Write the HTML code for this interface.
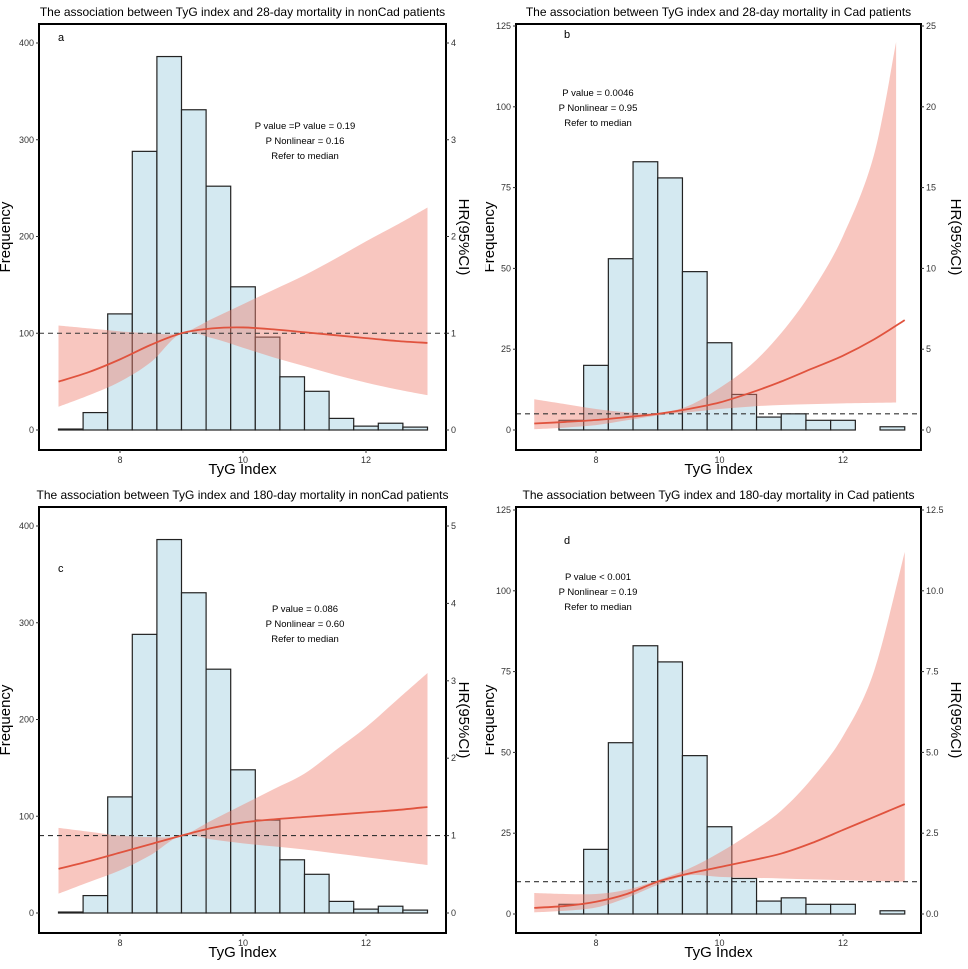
<!DOCTYPE html>
<html><head><meta charset="utf-8"><style>
body{margin:0;background:#fff}
svg text{font-family:"Liberation Sans",Arial,sans-serif}
</style></head><body>
<svg id="chart" width="968" height="964" viewBox="0 0 968 964" xmlns="http://www.w3.org/2000/svg"></svg>
<script>
const binStarts=[7.0,7.4,7.8,8.2,8.6,9.0,9.4,9.8,10.2,10.6,11.0,11.4,11.8,12.2,12.6];
const countsNonCad=[1,18,120,288,386,331,252,148,96,55,40,12,4,7,3];
const countsCad=[0,3,20,53,83,78,49,27,11,4,5,3,3,0,1];
const curveX=[7,7.5,8,8.5,9,9.5,10,10.5,11,11.5,12,12.5,13];
const hrA=[0.5,0.6,0.73,0.88,1.0,1.05,1.06,1.04,1.01,0.98,0.95,0.92,0.9];
const loA=[0.24,0.36,0.5,0.7,1.0,0.95,0.85,0.75,0.66,0.57,0.49,0.42,0.36];
const upA=[1.08,1.05,1.02,1.0,1.0,1.15,1.3,1.45,1.6,1.77,1.95,2.12,2.3];
const hrB=[0.4,0.5,0.62,0.8,1.0,1.3,1.7,2.3,3.0,3.8,4.6,5.6,6.8];
const loB=[0.05,0.15,0.3,0.6,0.9,1.1,1.3,1.45,1.55,1.6,1.65,1.68,1.7];
const upB=[1.9,1.6,1.3,1.1,1.05,1.5,2.6,4.0,6.0,8.6,12.0,17.0,24.0];
const hrC=[0.57,0.67,0.78,0.89,1.0,1.1,1.17,1.21,1.24,1.27,1.3,1.33,1.37];
const loC=[0.25,0.4,0.55,0.75,1.0,0.95,0.9,0.86,0.82,0.77,0.72,0.67,0.62];
const upC=[1.1,1.05,1.0,0.98,1.0,1.2,1.4,1.6,1.8,2.1,2.4,2.75,3.1];
const hrD=[0.19,0.25,0.38,0.62,1.0,1.25,1.45,1.65,1.87,2.2,2.6,3.0,3.4];
const loD=[0.05,0.1,0.2,0.5,0.9,1.2,1.15,1.12,1.1,1.07,1.05,1.02,1.0];
const upD=[0.65,0.62,0.62,0.75,1.05,1.4,1.9,2.5,3.2,4.2,5.5,7.5,11.2];
const freqTicksBig=[0,100,200,300,400];
const freqTicksSmall=[0,25,50,75,100,125];
const xTicks=[8,10,12];

const svg=document.getElementById('chart');
const NS='http://www.w3.org/2000/svg';
function mk(tag,attrs,parent){const e=document.createElementNS(NS,tag);for(const k in attrs)e.setAttribute(k,attrs[k]);(parent||svg).appendChild(e);return e;}
function smooth(pts){let d='M'+pts[0][0]+','+pts[0][1];for(let i=0;i<pts.length-1;i++){const p0=pts[Math.max(0,i-1)],p1=pts[i],p2=pts[i+1],p3=pts[Math.min(pts.length-1,i+2)];const c1=[p1[0]+(p2[0]-p0[0])/6,p1[1]+(p2[1]-p0[1])/6],c2=[p2[0]-(p3[0]-p1[0])/6,p2[1]-(p3[1]-p1[1])/6];d+=' C'+c1[0]+','+c1[1]+' '+c2[0]+','+c2[1]+' '+p2[0]+','+p2[1];}return d;}

function panel(o){
  const g=mk('g',{});
  
  
  const X=v=>o.x8+(v-8)*o.ux;
  const Yf=v=>o.y0-v*(o.y0-o.yTop)/o.fMax;
  const Yh=v=>o.y0-v*(o.y0-o.yTop)/o.hMax;
  let t=mk('text',{x:(o.bx1+o.bx2)/2,y:o.by1-8,'text-anchor':'middle','font-size':'12'},g);t.textContent=o.title;
  
  o.counts.forEach((c,i)=>{
    if(c===0&&i>0)return;
    const r=mk('rect',{x:X(binStarts[i]),y:Yf(c),width:X(binStarts[i]+0.4)-X(binStarts[i]),height:o.y0-Yf(c),fill:'#d4e9f1',stroke:'#222','stroke-width':'1.2'},g);
    
  });
  let bx=o.bandX;
  let up=[],lo=[];
  curveX.forEach((v,i)=>{if(v<=bx){up.push([X(v),Yh(o.up[i])]);lo.push([X(v),Yh(o.lo[i])]);}});
  if(bx<13){const k=curveX.length-1;up.push([X(bx),Yh(o.up[k])]);lo.push([X(bx),Yh(o.lo[k])]);}
  let d=smooth(up);const lr=lo.slice().reverse();const sl=smooth(lr);d+=' L'+lr[0][0]+','+lr[0][1]+sl.slice(sl.indexOf(' C'))+' Z';
  const band=mk('path',{d:d,fill:'#f08070','fill-opacity':'0.45',stroke:'none'},g);
  
  mk('line',{x1:o.bx1,x2:o.bx2,y1:Yh(1),y2:Yh(1),stroke:'#333','stroke-width':'1.1','stroke-dasharray':'5,4'},g);
  const ln=mk('path',{d:smooth(curveX.map((v,i)=>[X(v),Yh(o.hr[i])])),fill:'none',stroke:'#e0533e','stroke-width':'1.8'},g);
  
  mk('rect',{x:o.bx1,y:o.by1,width:o.bx2-o.bx1,height:o.by2-o.by1,fill:'none',stroke:'#000','stroke-width':'2'},g);
  o.fTicks.forEach(v=>{mk('line',{x1:o.bx1-3,x2:o.bx1,y1:Yf(v),y2:Yf(v),stroke:'#333'},g);const tt=mk('text',{x:o.bx1-5,y:Yf(v)+3,'text-anchor':'end','font-size':'9',fill:'#333'},g);tt.textContent=v;});
  o.hTicks.forEach((v,i)=>{mk('line',{x1:o.bx2,x2:o.bx2+3,y1:Yh(v),y2:Yh(v),stroke:'#333'},g);const tt=mk('text',{x:o.bx2+5,y:Yh(v)+3,'font-size':'9',fill:'#333'},g);tt.textContent=o.hLabels[i];});
  xTicks.forEach(v=>{mk('line',{x1:X(v),x2:X(v),y1:o.by2,y2:o.by2+3,stroke:'#333'},g);const tt=mk('text',{x:X(v),y:o.by2+13,'text-anchor':'middle','font-size':'9',fill:'#333'},g);tt.textContent=v;});
  t=mk('text',{x:(o.bx1+o.bx2)/2,y:o.by2+24,'text-anchor':'middle','font-size':'15'},g);t.textContent='TyG Index';
  
  const cy=(o.by1+o.by2)/2;
  const fx=o.bx1-o.fOff;
  t=mk('text',{x:fx,y:cy,'text-anchor':'middle','font-size':'15',transform:`rotate(-90 ${fx} ${cy})`},g);t.textContent='Frequency';
  
  const hx=o.bx2+o.hOff;
  t=mk('text',{x:hx,y:cy,'text-anchor':'middle','font-size':'15',transform:`rotate(90 ${hx} ${cy})`},g);t.textContent='HR(95%CI)';
  
  t=mk('text',{x:o.lx,y:o.ly,'font-size':'11'},g);t.textContent=o.id;
  
  o.ann.forEach((s,i)=>{const a=mk('text',{x:o.ax,y:o.ay+i*15,'text-anchor':'middle','font-size':'9.5'},g);a.textContent=s;});
}
const L={bx1:39,bx2:446,x8:120,ux:61.5,fOff:29,hOff:13},R={bx1:516,bx2:921,x8:596,ux:61.75,fOff:22,hOff:30};
panel({...R,id:'b',by1:24,by2:450,y0:430,yTop:26,fMax:125,hMax:25,fTicks:freqTicksSmall,hTicks:[0,5,10,15,20,25],hLabels:['0','5','10','15','20','25'],counts:countsCad,hr:hrB,lo:loB,up:upB,bandX:12.86,title:'The association between TyG index and 28-day mortality in Cad patients',lx:564,ly:38,ax:598,ay:96,ann:['P value = 0.0046','P Nonlinear = 0.95','Refer to median']});
panel({...R,id:'d',by1:507,by2:933,y0:914,yTop:510,fMax:125,hMax:12.5,fTicks:freqTicksSmall,hTicks:[0,2.5,5,7.5,10,12.5],hLabels:['0.0','2.5','5.0','7.5','10.0','12.5'],counts:countsCad,hr:hrD,lo:loD,up:upD,bandX:13,title:'The association between TyG index and 180-day mortality in Cad patients',lx:564,ly:544,ax:598,ay:580,ann:['P value < 0.001','P Nonlinear = 0.19','Refer to median']});
const cover1=mk('rect',{x:455,y:150,width:30,height:180,fill:'#fff'});

const cover2=mk('rect',{x:455,y:633,width:30,height:180,fill:'#fff'});

panel({...L,id:'a',by1:24,by2:450,y0:430,yTop:43,fMax:400,hMax:4,fTicks:freqTicksBig,hTicks:[0,1,2,3,4],hLabels:['0','1','2','3','4'],counts:countsNonCad,hr:hrA,lo:loA,up:upA,bandX:13,title:'The association between TyG index and 28-day mortality in nonCad patients',lx:58,ly:41,ax:305,ay:129,ann:['P value =P value = 0.19','P Nonlinear = 0.16','Refer to median']});
panel({...L,id:'c',by1:507,by2:933,y0:913,yTop:526,fMax:400,hMax:5,fTicks:freqTicksBig,hTicks:[0,1,2,3,4,5],hLabels:['0','1','2','3','4','5'],counts:countsNonCad,hr:hrC,lo:loC,up:upC,bandX:13,title:'The association between TyG index and 180-day mortality in nonCad patients',lx:58,ly:572,ax:305,ay:612,ann:['P value = 0.086','P Nonlinear = 0.60','Refer to median']});
</script>
</body></html>
